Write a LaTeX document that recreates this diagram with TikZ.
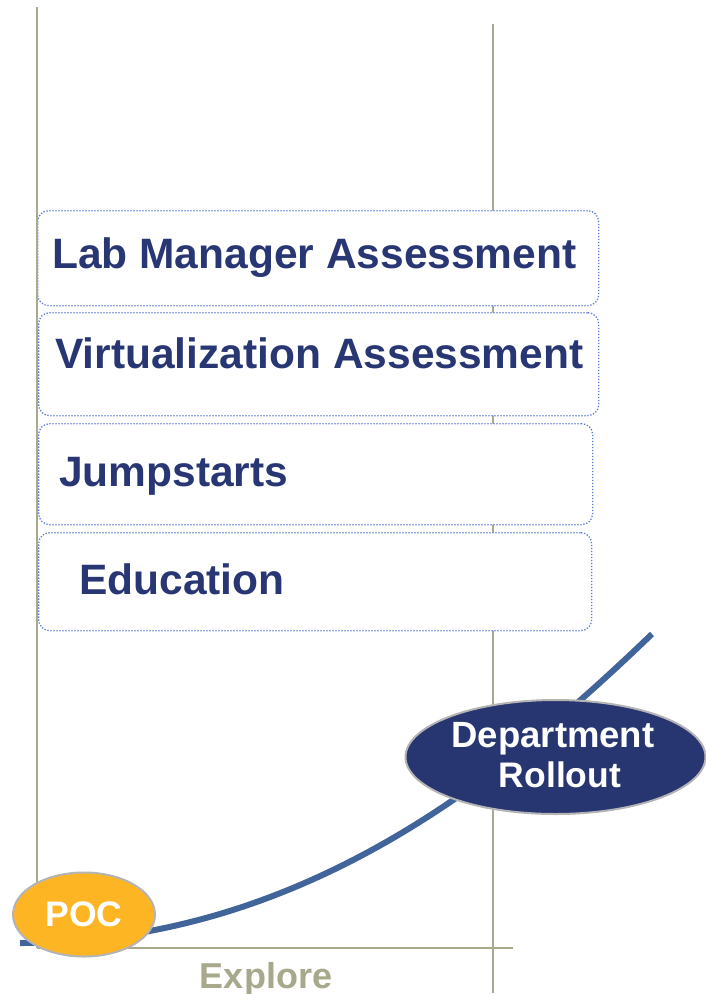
\documentclass[tikz,border=0pt]{standalone}
\usepackage{fontspec}
\setmainfont{Liberation Sans}
\usetikzlibrary{shapes.geometric}
\definecolor{navytext}{RGB}{40,54,115}
\definecolor{deptfill}{RGB}{39,53,113}
\definecolor{curveblue}{RGB}{65,100,154}
\definecolor{pocfill}{RGB}{253,181,36}
\definecolor{explorecol}{RGB}{168,168,140}
\definecolor{lineol}{RGB}{169,169,141}
\definecolor{dotblue}{RGB}{92,122,212}
\definecolor{edgegray}{RGB}{180,180,180}
\tikzset{
  guide/.style={draw=lineol, line width=1.5pt},
  growth/.style={draw=curveblue, line width=6pt},
  stepbox/.style={rectangle, draw=dotblue, line width=1.3pt, dash pattern=on 1.3pt off 1.7pt,
    rounded corners=11pt, fill=white, inner sep=0pt, anchor=north west},
  boxtext/.style={anchor=base west, inner sep=0pt, text=navytext,
    font=\fontsize{42.5}{48}\selectfont\bfseries},
  bubble/.style={ellipse, draw=edgegray, line width=2pt, inner sep=0pt},
  bubbletext/.style={anchor=base, inner sep=0pt, text=white,
    font=\fontsize{35.5}{40}\selectfont\bfseries},
}
\begin{document}
\begin{tikzpicture}[x=1pt,y=-1pt]
\useasboundingbox (0,0) rectangle (706,994);
% guide lines
\coordinate (ltop) at (37,7);
\coordinate (lbot) at (37,948);
\coordinate (rtop) at (493,24);
\coordinate (rbot) at (493,993);
\coordinate (hend) at (513,948);
\draw[guide] (rtop) -- (rbot);
\draw[guide] (lbot) -- (hend);
% growth curve
\coordinate (cs) at (20,943);
\coordinate (ce) at (652,634);
\draw[growth] (cs) .. controls (300,943) and (500,780) .. (ce);
% boxes
\node[stepbox, minimum width=561pt, minimum height=95pt] (b1) at (37,210) {};
\node[stepbox, minimum width=560pt, minimum height=103pt] (b2) at (38,312) {};
\node[stepbox, minimum width=554pt, minimum height=101pt] (b3) at (38,423) {};
\node[stepbox, minimum width=553pt, minimum height=98pt] (b4) at (38,532) {};
\draw[guide] (ltop) -- (lbot);
\node[boxtext] (t1) at (52,268) {Lab Manager Assessment};
\node[boxtext] (t2) at (55,368) {Virtualization Assessment};
\node[boxtext] (t3) at (59,486) {Jumpstarts};
\node[boxtext] (t4) at (79,594) {Education};
% bubbles
\node[bubble, fill=deptfill, minimum width=300pt, minimum height=114pt] (dept) at (555.5,757) {};
\node[bubbletext, font=\fontsize{36.5}{40}\selectfont\bfseries] (dept1) at (553,747) {Department};
\node[bubbletext] (dept2) at (560,787) {Rollout};
\node[bubble, fill=pocfill, minimum width=142pt, minimum height=84pt] (poc) at (84,914.5) {};
\node[bubbletext] (poct) at (84,926) {POC};
% axis label
\node[anchor=base, inner sep=0pt, text=explorecol, font=\fontsize{36}{40}\selectfont\bfseries] (explore) at (266,988) {Explore};
\end{tikzpicture}
\end{document}
